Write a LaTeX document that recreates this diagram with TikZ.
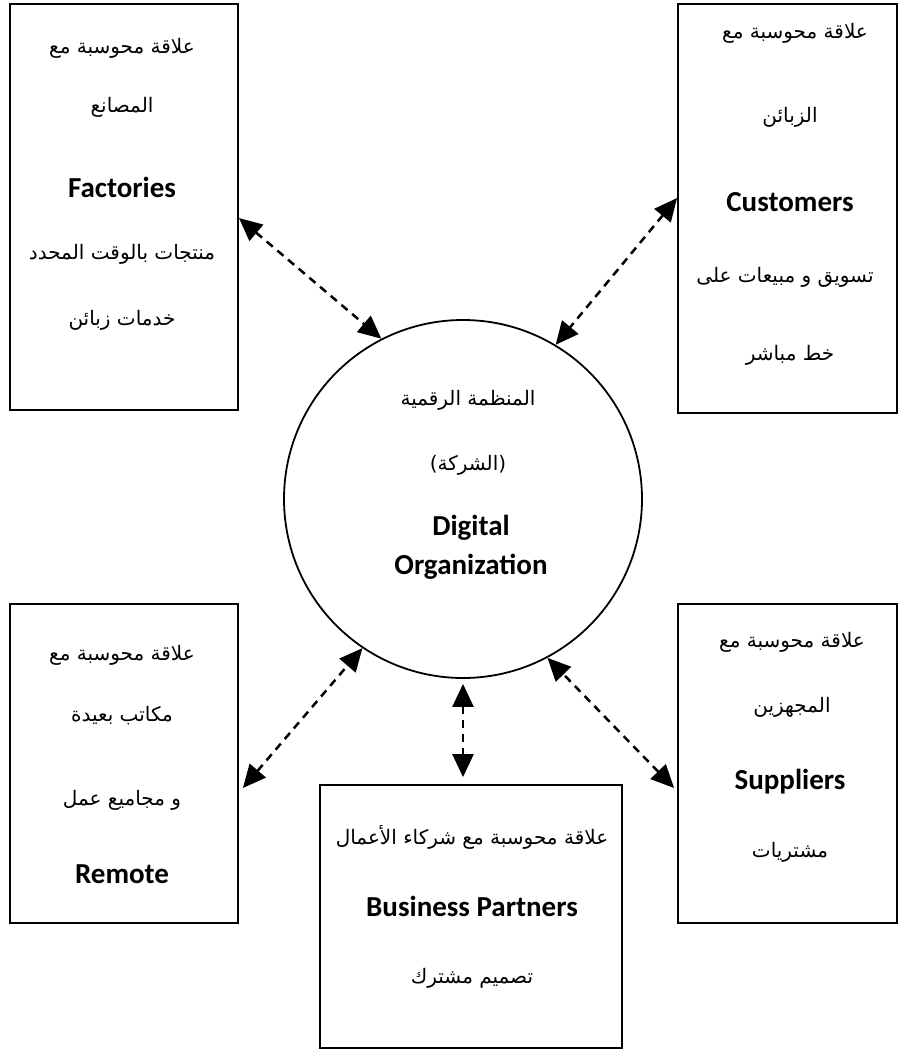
\documentclass[tikz,border=0pt]{standalone}
\usepackage{fontspec}
\setmainfont{Carlito}
\newfontfamily\arabicfont[Script=Arabic]{DejaVu Sans}
\newfontfamily\latinbold{Carlito}
\TeXXeTstate=1
\usetikzlibrary{arrows.meta,calc}
\tikzset{
  box/.style={draw=black, line width=1.8pt, rectangle, inner sep=0pt, fill=white},
  orgcircle/.style={draw=black, line width=1.8pt, circle, inner sep=0pt, minimum size=358pt},
  ar/.style={inner sep=0pt, font=\arabicfont\fontsize{20}{24}\selectfont},
  en/.style={inner sep=0pt, font=\latinbold\bfseries\fontsize{29}{33}\selectfont},
  link/.style={line width=2.5pt, dash pattern=on 8pt off 6pt,
    {Triangle[length=23pt,width=21pt]}-{Triangle[length=23pt,width=21pt]}}
}
\newcommand{\AR}[1]{\beginR #1\endR}
\begin{document}
\begin{tikzpicture}[x=1pt,y=-1pt]
\useasboundingbox (0,0) rectangle (898,1052);
\fill[white] (0,0) rectangle (898,1052);

% boxes
\node[box, minimum width=228pt, minimum height=406pt] (fac) at (124,207) {};
\node[box, minimum width=219pt, minimum height=409pt] (cus) at (787.5,208.5) {};
\node[box, minimum width=228pt, minimum height=319pt] (rem) at (124,763.5) {};
\node[box, minimum width=219pt, minimum height=319pt] (sup) at (787.5,763.5) {};
\node[box, minimum width=302pt, minimum height=263pt] (bp) at (471,916.5) {};
\node[orgcircle] (org) at (463,499) {};

% Factories
\node[ar] (fac1) at (122,48) {\AR{علاقة محوسبة مع}};
\node[ar] (fac2) at (122,107) {\AR{المصانع}};
\node[en] (fac3) at (122,187) {Factories};
\node[ar] (fac4) at (122,254) {\AR{منتجات بالوقت المحدد}};
\node[ar] (fac5) at (122,320) {\AR{خدمات زبائن}};

% Customers
\node[ar] (cus1) at (795,33) {\AR{علاقة محوسبة مع}};
\node[ar] (cus2) at (790,117) {\AR{الزبائن}};
\node[en] (cus3) at (790,202) {Customers};
\node[ar] (cus4) at (785,277) {\AR{تسويق و مبيعات على}};
\node[ar] (cus5) at (790,355) {\AR{خط مباشر}};

% Circle
\node[ar] (org1) at (468,400) {\AR{المنظمة الرقمية}};
\node[ar] (org2) at (468,465) {\AR{(الشركة)}};
\node[en] (org3) at (471,528) {Digital};
\node[en] (org4) at (471,567) {Organization};

% Remote
\node[ar] (rem1) at (122,655) {\AR{علاقة محوسبة مع}};
\node[ar] (rem2) at (122,716) {\AR{مكاتب بعيدة}};
\node[ar] (rem3) at (122,800) {\AR{و مجاميع عمل}};
\node[en] (rem4) at (122,874) {Remote};

% Suppliers
\node[ar] (sup1) at (792,642) {\AR{علاقة محوسبة مع}};
\node[ar] (sup2) at (792,707) {\AR{المجهزين}};
\node[en] (sup3) at (790,782) {Suppliers};
\node[ar] (sup4) at (790,852) {\AR{مشتريات}};

% Business Partners
\node[ar] (bp1) at (472,837) {\AR{علاقة محوسبة مع شركاء الأعمال}};
\node[en] (bp3) at (472,906) {Business Partners};
\node[ar] (bp4) at (472,978) {\AR{تصميم مشترك}};

% connector end points
\coordinate (facE) at ($(fac.east)+(0,11)$);
\coordinate (cusW) at ($(cus.west)+(0,-10.5)$);
\coordinate (remE) at ($(rem.east)+(4,24.5)$);
\coordinate (supW) at ($(sup.west)+(-3,24.5)$);
\coordinate (bpN) at ($(bp.north)+(-8,-7)$);
\coordinate (orgS) at ($(org.south)+(0,5)$);

\draw[link] (facE) -- (org.117.7);
\draw[link] (cusW) -- (org.59.1);
\draw[link] (remE) -- (org.236);
\draw[link] (supW) -- (org.298.7);
\draw[link] (orgS) -- (bpN);
\end{tikzpicture}
\end{document}
